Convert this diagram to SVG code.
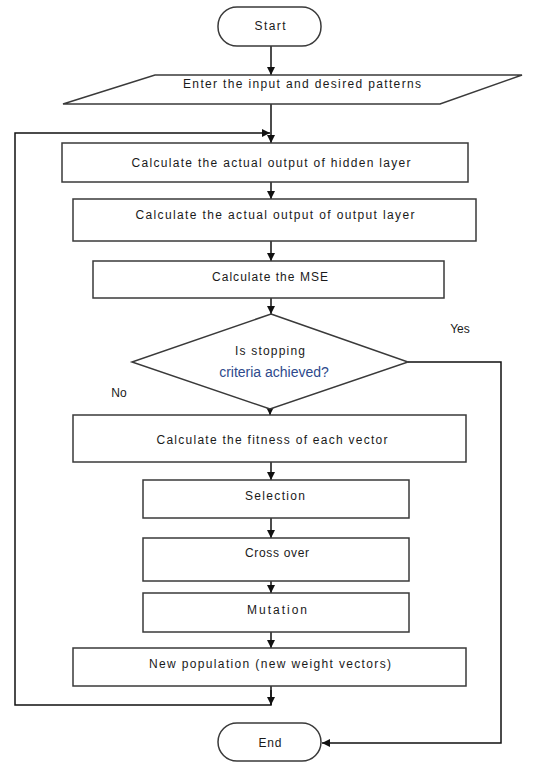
<svg xmlns="http://www.w3.org/2000/svg" width="538" height="762" viewBox="0 0 538 762">
<style>
.box{fill:#fff;stroke:#3a3a3a;stroke-width:1.5}
.t{font-family:"Liberation Sans",Arial,sans-serif;font-size:12px;fill:#1a1a1a;text-anchor:middle}
.c{fill:none;stroke:#111;stroke-width:1.5}
</style>
<defs>
<marker id="ah" viewBox="0 0 10 10" refX="10" refY="5" markerWidth="8" markerHeight="8" markerUnits="userSpaceOnUse" orient="auto">
<path d="M0,0 L10,5 L0,10 z" fill="#111"/>
</marker>
</defs>
<rect width="538" height="762" fill="#fff"/>
<g id="connectors">
<line class="c" x1="271" y1="46" x2="271" y2="75" marker-end="url(#ah)"/>
<line class="c" x1="271" y1="104" x2="271" y2="143" marker-end="url(#ah)"/>
<polyline class="c" points="271,686 271,705 15,705 15,133 270,133" marker-end="url(#ah)"/>
<line class="c" x1="271" y1="690" x2="271" y2="705" marker-end="url(#ah)"/>
<line class="c" x1="271" y1="182" x2="271" y2="199" marker-end="url(#ah)"/>
<line class="c" x1="271" y1="241" x2="271" y2="261" marker-end="url(#ah)"/>
<line class="c" x1="271" y1="298" x2="271" y2="314" marker-end="url(#ah)"/>
<line class="c" x1="270" y1="409" x2="270" y2="415" marker-end="url(#ah)"/>
<line class="c" x1="271" y1="462" x2="271" y2="480" marker-end="url(#ah)"/>
<line class="c" x1="271" y1="518" x2="271" y2="538" marker-end="url(#ah)"/>
<line class="c" x1="271" y1="573" x2="271" y2="593" marker-end="url(#ah)"/>
<line class="c" x1="271" y1="632" x2="271" y2="648" marker-end="url(#ah)"/>
<polyline class="c" points="408,362 501,362 501,743 322,743" marker-end="url(#ah)"/>
<text class="t" x="460" y="333">Yes</text>
<text class="t" x="119" y="397">No</text>
</g>
<g id="start">
<rect class="box" x="218" y="7" width="103" height="39" rx="19"/>
<text class="t" x="270" y="30" textLength="31" lengthAdjust="spacing">Start</text>
</g>
<g id="input">
<polygon class="box" points="155,75 522,75 440,104 63,104"/>
<text class="t" x="302" y="88" textLength="238" lengthAdjust="spacing">Enter the input and desired patterns</text>
</g>
<g id="hidden">
<rect class="box" x="62" y="143" width="406" height="39"/>
<text class="t" x="271" y="167" textLength="279" lengthAdjust="spacing">Calculate the actual output of hidden layer</text>
</g>
<g id="output">
<rect class="box" x="73" y="199" width="403" height="42"/>
<text class="t" x="275" y="219" textLength="279" lengthAdjust="spacing">Calculate the actual output of output layer</text>
</g>
<g id="mse">
<rect class="box" x="93" y="261" width="351" height="37"/>
<text class="t" x="270" y="281" textLength="116" lengthAdjust="spacing">Calculate the MSE</text>
</g>
<g id="decision">
<polygon class="box" points="271,314 408,362 270,409 132,362"/>
<text class="t" x="270" y="355" textLength="70" lengthAdjust="spacing">Is stopping</text>
<text x="274" y="377" font-family="Liberation Sans, Arial, sans-serif" font-size="14" fill="#2e4a8c" text-anchor="middle">criteria achieved?</text>
</g>
<g id="fitness">
<rect class="box" x="73" y="415" width="393" height="47"/>
<text class="t" x="272" y="444" textLength="231" lengthAdjust="spacing">Calculate the fitness of each vector</text>
</g>
<g id="selection">
<rect class="box" x="143" y="480" width="266" height="38"/>
<text class="t" x="275" y="500" textLength="60" lengthAdjust="spacing">Selection</text>
</g>
<g id="crossover">
<rect class="box" x="143" y="538" width="266" height="43"/>
<text class="t" x="277" y="557" textLength="64" lengthAdjust="spacing">Cross over</text>
</g>
<g id="mutation">
<rect class="box" x="143" y="593" width="266" height="39"/>
<text class="t" x="277" y="614" textLength="60" lengthAdjust="spacing">Mutation</text>
</g>
<g id="newpop">
<rect class="box" x="73" y="648" width="393" height="38"/>
<text class="t" x="270" y="668" textLength="242" lengthAdjust="spacing">New population (new weight vectors)</text>
</g>
<g id="end">
<rect class="box" x="218" y="723" width="103" height="38" rx="19"/>
<text class="t" x="270" y="747" textLength="23" lengthAdjust="spacing">End</text>
</g>
</svg>
